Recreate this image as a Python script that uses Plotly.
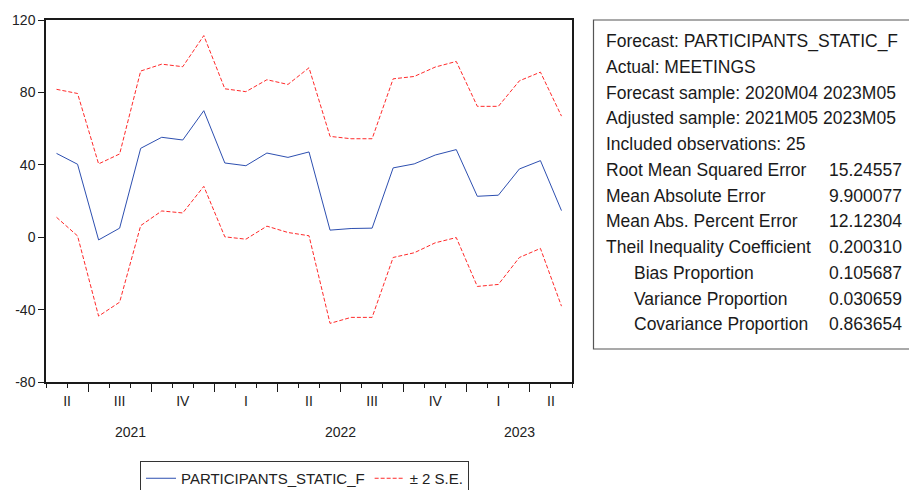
import plotly.graph_objects as go

# ---------------- data ----------------
months = ["2021M05", "2021M06", "2021M07", "2021M08", "2021M09", "2021M10", "2021M11",
          "2021M12", "2022M01", "2022M02", "2022M03", "2022M04", "2022M05", "2022M06",
          "2022M07", "2022M08", "2022M09", "2022M10", "2022M11", "2022M12", "2023M01",
          "2023M02", "2023M03", "2023M04", "2023M05"]
forecast = [46.3, 40.3, -1.5, 5.0, 49.1, 55.2, 53.7, 69.9, 41.0, 39.5, 46.5, 44.1, 47.1,
            3.9, 4.8, 5.0, 38.3, 40.5, 45.4, 48.4, 22.6, 23.2, 37.7, 42.3, 14.7]
upper = [81.7, 79.4, 40.5, 46.0, 91.8, 95.6, 94.2, 111.4, 82.0, 80.4, 87.0, 84.4, 93.6,
         55.7, 54.4, 54.4, 87.5, 88.8, 94.0, 97.1, 72.3, 72.3, 86.4, 91.2, 66.9]
lower = [11.0, 0.7, -43.6, -35.9, 6.4, 14.5, 13.4, 28.1, 0.2, -1.1, 6.1, 2.6, 0.8,
         -47.6, -44.3, -44.3, -11.2, -8.6, -3.1, -0.2, -27.2, -26.1, -11.2, -6.2, -38.1]
quarter_labels = ["II", "III", "IV", "I", "II", "III", "IV", "I", "II"]
year_labels = ["2021", "2022", "2023"]
y_ticks = [-80, -40, 0, 40, 80, 120]
y_tick_labels = ["-80", "-40", "0", "40", "80", "120"]
stat_labels = ["Forecast: PARTICIPANTS_STATIC_F", "Actual: MEETINGS",
               "Forecast sample: 2020M04 2023M05", "Adjusted sample: 2021M05 2023M05",
               "Included observations: 25", "Root Mean Squared Error", "Mean Absolute Error",
               "Mean Abs. Percent Error", "Theil Inequality Coefficient", "Bias Proportion",
               "Variance Proportion", "Covariance Proportion"]
stat_values = ["", "", "", "", "", "15.24557", "9.900077", "12.12304", "0.200310",
               "0.105687", "0.030659", "0.863654"]
indented = {"Bias Proportion", "Variance Proportion", "Covariance Proportion"}
series_names = ["PARTICIPANTS_STATIC_F", "± 2 S.E."]

# ---------------- layout helpers ----------------
W, H = 909, 490
PL, PR, PT, PB = 46, 572, 20, 382   # plot area in pixels


def px(x):
    return (x - PL) / (PR - PL)


def py(y):
    return (PB - y) / (PB - PT)


BLUE = "#2d4fb0"
RED = "#ff2a2a"
AXC = "#1a1a1a"
FONT = "Liberation Sans, Arial, sans-serif"

xi = list(range(len(months)))
ym = [(int(m[:4]), int(m[5:])) for m in months]

# quarter groups (consecutive) and boundaries
groups = []
for i, (yr, mo) in enumerate(ym):
    key = (yr, (mo - 1) // 3)
    if groups and groups[-1][0] == key:
        groups[-1][2] = i
    else:
        groups.append([key, i, i])
q_centers = [(g[1] + g[2]) / 2 for g in groups]
q_bounds = [i - 0.5 for i, (yr, mo) in enumerate(ym) if mo in (1, 4, 7, 10)]
m_bounds = [i - 0.5 for i in range(len(months) + 1)]

years = []
for i, (yr, mo) in enumerate(ym):
    if years and years[-1][0] == yr:
        years[-1][2] = i
    else:
        years.append([yr, i, i])
y_centers = [(g[1] + g[2]) / 2 for g in years]

fig = go.Figure()
fig.add_trace(go.Scatter(x=xi, y=forecast, mode="lines", name=series_names[0],
                         line=dict(color=BLUE, width=1)))
fig.add_trace(go.Scatter(x=xi, y=upper, mode="lines", name=series_names[1],
                         line=dict(color=RED, width=1, dash="4px,2px")))
fig.add_trace(go.Scatter(x=xi, y=lower, mode="lines", name=series_names[1], showlegend=False,
                         line=dict(color=RED, width=1, dash="4px,2px")))
# invisible helper trace for the quarter-label axis
fig.add_trace(go.Scatter(x=xi, y=forecast, xaxis="x2", mode="lines", showlegend=False,
                         hoverinfo="skip", line=dict(color="rgba(0,0,0,0)", width=0)))

xr = [-0.5, len(months) - 0.5]
fig.update_layout(
    width=W, height=H,
    margin=dict(l=PL, r=W - PR, t=PT, b=H - PB, pad=0, autoexpand=False),
    paper_bgcolor="white", plot_bgcolor="white",
    font=dict(family=FONT, size=14, color="#222"),
    showlegend=True,
    xaxis=dict(range=xr, showgrid=False, zeroline=False, showline=True, mirror=True,
               linecolor=AXC, linewidth=1.5, tickmode="array", tickvals=q_bounds,
               showticklabels=False, ticks="outside", ticklen=8, tickwidth=1,
               tickcolor=AXC,
               minor=dict(tickmode="array", tickvals=m_bounds, ticks="outside",
                          ticklen=4, tickwidth=1, tickcolor=AXC, showgrid=False)),
    xaxis2=dict(range=xr, overlaying="x", anchor="y", side="bottom", showgrid=False,
                zeroline=False, showline=False, tickmode="array", tickvals=q_centers,
                ticktext=quarter_labels, ticks="outside", ticklen=6,
                tickcolor="rgba(0,0,0,0)", tickfont=dict(size=14, color="#222")),
    yaxis=dict(range=[-80, 120], tickmode="array", tickvals=y_ticks, ticktext=y_tick_labels,
               showgrid=False, zeroline=False, showline=True, mirror=True, linecolor=AXC,
               linewidth=1.5, ticks="outside", ticklen=6, tickwidth=1, tickcolor=AXC,
               tickfont=dict(size=14, color="#222")),
    legend=dict(orientation="h", x=px(140), xanchor="left", y=py(461), yanchor="top",
                bordercolor="#333", borderwidth=1, bgcolor="white",
                font=dict(size=15, color="#222"), entrywidth=0),
)

annotations = []
for c, lab in zip(y_centers, year_labels):
    annotations.append(dict(x=c, xref="x", y=py(432), yref="paper", text=lab,
                            showarrow=False, xanchor="center", yanchor="middle",
                            font=dict(size=14, color="#222")))

# statistics box
line0, dline = 41.0, 25.75
for k, (lab, val) in enumerate(zip(stat_labels, stat_values)):
    yy = py(line0 + k * dline)
    xl = 632 if lab in indented else 604
    annotations.append(dict(x=px(xl), xref="paper", y=yy, yref="paper", text=lab,
                            showarrow=False, xanchor="left", yanchor="middle",
                            font=dict(size=17.5, color="#1a1a1a")))
    if val:
        annotations.append(dict(x=px(904), xref="paper", y=yy, yref="paper", text=val,
                                showarrow=False, xanchor="right", yanchor="middle",
                                font=dict(size=17.5, color="#1a1a1a")))
fig.update_layout(annotations=annotations)
fig.add_shape(type="rect", xref="paper", yref="paper", x0=px(593.5), x1=px(915),
              y0=py(349), y1=py(20), line=dict(color="#555", width=1.2),
              fillcolor="rgba(0,0,0,0)")

fig.write_html("out.html", config={"displayModeBar": False},
               post_script="document.body.style.margin='0';document.body.style.overflow='hidden';")
